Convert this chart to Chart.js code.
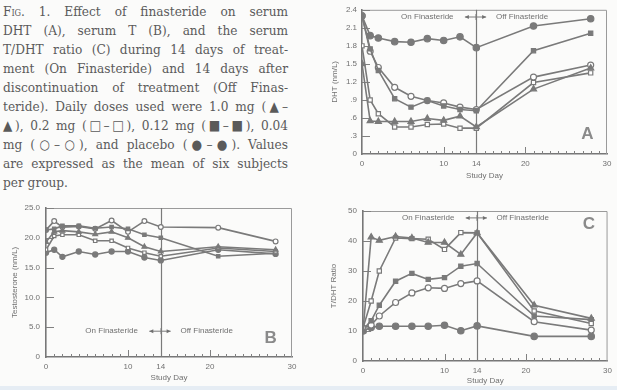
<!DOCTYPE html>
<html><head><meta charset="utf-8">
<script src="https://cdn.jsdelivr.net/npm/chart.js@4"></script>
<style>
body{margin:0;background:#fbfbfa;}
#wrap{position:relative;width:617px;height:390px;overflow:hidden;background:#fbfbfa;}
.cap{position:absolute;left:3px;width:285px;font-family:'DejaVu Serif Condensed','DejaVu Serif',serif;font-stretch:condensed;font-size:13.5px;color:#5a5a5a;text-align:justify;text-align-last:justify;white-space:nowrap;line-height:19px;height:19px;}
.cap.last{text-align-last:left;}
.sc{font-variant:small-caps;}
canvas{position:absolute;}
#strip{position:absolute;left:0;top:386px;width:617px;height:4px;background:#e6edf4;}
</style></head>
<body><div id="wrap">
<div class="cap" style="top:2px"><span class="sc">Fig</span>. 1. Effect of finasteride on serum</div>
<div class="cap" style="top:21px">DHT (A), serum T (B), and the serum</div>
<div class="cap" style="top:40px">T/DHT ratio (C) during 14 days of treat-</div>
<div class="cap" style="top:59px">ment (On Finasteride) and 14 days after</div>
<div class="cap" style="top:78px">discontinuation of treatment (Off Finas-</div>
<div class="cap" style="top:97px">teride). Daily doses used were 1.0 mg (▲–</div>
<div class="cap" style="top:116px">▲), 0.2 mg (□–□), 0.12 mg (■–■), 0.04</div>
<div class="cap" style="top:135px">mg (○–○), and placebo (●–●). Values</div>
<div class="cap" style="top:154px">are expressed as the mean of six subjects</div>
<div class="cap last" style="top:173px">per group.</div>
<canvas id="cA" width="317" height="195" style="left:300px;top:0px"></canvas>
<canvas id="cB" width="310" height="195" style="left:0px;top:195px"></canvas>
<canvas id="cC" width="307" height="195" style="left:310px;top:195px"></canvas>
<div id="strip"></div>
</div>
<script>
// ---- data ----
const days = [0, 1, 2, 4, 6, 8, 10, 12, 14, 21, 28];
const seriesNames = ['1.0 mg', '0.2 mg', '0.12 mg', '0.04 mg', 'placebo'];
const xTickValues = [0, 10, 14, 20, 30];

// Panel A: serum DHT (nm/L)
const dht_1_0   = [1.50, 0.55, 0.54, 0.54, 0.54, 0.59, 0.56, 0.63, 0.45, 1.08, 1.43];
const dht_0_2   = [1.80, 0.90, 0.67, 0.45, 0.45, 0.49, 0.50, 0.43, 0.43, 1.19, 1.35];
const dht_0_12  = [2.30, 1.75, 1.39, 0.92, 0.78, 0.89, 0.80, 0.74, 0.72, 1.72, 2.01];
const dht_0_04  = [2.30, 1.71, 1.44, 1.11, 0.96, 0.89, 0.85, 0.78, 0.74, 1.28, 1.48];
const dht_plac  = [2.30, 1.97, 1.93, 1.87, 1.86, 1.92, 1.89, 1.95, 1.77, 2.13, 2.25];
const dhtTicks = [0, 0.3, 0.6, 0.9, 1.2, 1.5, 1.8, 2.1, 2.4];
const dhtTickLabels = ['0', '.3', '.6', '.9', '1.2', '1.5', '1.8', '2.1', '2.4'];

// Panel B: serum testosterone (nm/L)
const t_1_0  = [19.3, 21.0, 21.2, 21.0, 20.6, 21.0, 20.0, 18.5, 17.7, 18.5, 18.0];
const t_0_2  = [18.0, 20.3, 20.5, 20.5, 19.5, 19.5, 18.3, 17.5, 16.9, 18.3, 17.7];
const t_0_12 = [21.3, 21.5, 22.0, 22.0, 21.6, 21.8, 21.5, 20.5, 20.0, 16.9, 17.4];
const t_0_04 = [21.3, 22.8, 21.8, 21.9, 21.5, 22.9, 21.0, 22.8, 21.8, 21.7, 19.4];
const t_plac = [17.5, 18.0, 16.8, 17.7, 17.2, 17.7, 17.7, 16.7, 16.2, 18.0, 17.3];
const tTicks = [0, 5, 10, 15, 20, 25];
const tTickLabels = ['0', '5.0', '10.0', '15.0', '20.0', '25.0'];

// Panel C: T/DHT ratio
const r_1_0  = [10.0, 41.3, 40.2, 41.5, 41.0, 39.5, 39.5, 35.5, 42.7, 18.6, 14.2];
const r_0_2  = [11.0, 20.0, 30.0, 41.0, 40.8, 40.6, 37.2, 42.8, 42.7, 16.7, 12.5];
const r_0_12 = [10.5, 13.4, 18.6, 26.6, 29.2, 27.2, 27.8, 31.6, 32.5, 15.0, 13.8];
const r_0_04 = [11.0, 12.0, 15.0, 19.5, 22.7, 24.4, 24.2, 25.8, 26.7, 13.1, 10.3];
const r_plac = [10.0, 11.2, 11.6, 11.6, 11.6, 11.6, 11.9, 10.1, 11.7, 8.2, 8.2];
const rTicks = [0, 10, 20, 30, 40, 50];
const rTickLabels = ['0', '10', '20', '30', '40', '50'];

// ---- styling ----
const LINE = '#7a7a7a';
const TXT = '#707070';
const FONT = 'Liberation Sans, Arial, sans-serif';
const markerStyles = [
  {pointStyle: 'triangle', fill: LINE, r: 3.5},
  {pointStyle: 'rect', fill: '#ffffff', r: 3},
  {pointStyle: 'rect', fill: LINE, r: 3},
  {pointStyle: 'circle', fill: '#ffffff', r: 3},
  {pointStyle: 'circle', fill: LINE, r: 3.2}
];

function makeDatasets(seriesList, rScale) {
  return seriesList.map((vals, k) => ({
    label: seriesNames[k],
    data: days.map((d, i) => ({x: d, y: vals[i]})).filter(p => p.y !== null),
    borderColor: LINE,
    backgroundColor: markerStyles[k].fill,
    pointBackgroundColor: markerStyles[k].fill,
    pointBorderColor: LINE,
    pointStyle: markerStyles[k].pointStyle,
    pointRadius: markerStyles[k].r * rScale,
    pointBorderWidth: 1.2,
    borderWidth: 1.6,
    tension: 0,
    fill: false
  }));
}

const decoPlugin = {
  id: 'deco',
  beforeDatasetsDraw(chart) {
    const o = chart.options.plugins.deco;
    const {ctx, chartArea: a, scales: {x, y}} = chart;
    ctx.save();
    ctx.strokeStyle = '#9a9a9a'; ctx.lineWidth = 1;
    ctx.beginPath();
    ctx.moveTo(a.left, a.top + 0.5); ctx.lineTo(a.right - 0.5, a.top + 0.5); ctx.lineTo(a.right - 0.5, a.bottom);
    ctx.stroke();
    ctx.strokeStyle = '#808080'; ctx.lineWidth = 1;
    for (let d = 1; d < 30; d++) {
      const px = Math.round(x.getPixelForValue(d)) + 0.5;
      const h = (d === 10 || d === 20) ? 7 : 3;
      ctx.beginPath(); ctx.moveTo(px, a.bottom); ctx.lineTo(px, a.bottom - h); ctx.stroke();
    }
    for (const v of o.yTicks) {
      if (v === o.yTicks[0]) continue;
      const py = Math.round(y.getPixelForValue(v)) + 0.5;
      ctx.beginPath(); ctx.moveTo(a.left, py); ctx.lineTo(a.left + 8, py); ctx.stroke();
    }
    const x14 = Math.round(x.getPixelForValue(14)) + 0.5;
    ctx.strokeStyle = '#7a7a7a'; ctx.lineWidth = 1.2;
    ctx.beginPath(); ctx.moveTo(x14, a.top); ctx.lineTo(x14, a.bottom); ctx.stroke();
    const ty = y.getPixelForValue(o.textY);
    ctx.fillStyle = TXT;
    ctx.font = '8px ' + FONT;
    ctx.textAlign = 'center'; ctx.textBaseline = 'middle';
    ctx.fillText('On Finasteride', x.getPixelForValue(8), ty);
    ctx.fillText('Off Finasteride', x.getPixelForValue(19.6), ty);
    const ax0 = x.getPixelForValue(12.6), ax1 = x.getPixelForValue(15.2);
    ctx.strokeStyle = '#7a7a7a'; ctx.lineWidth = 1;
    ctx.beginPath(); ctx.moveTo(ax0, ty); ctx.lineTo(ax1, ty); ctx.stroke();
    ctx.beginPath(); ctx.moveTo(ax0, ty); ctx.lineTo(ax0 + 4, ty - 2); ctx.lineTo(ax0 + 4, ty + 2); ctx.closePath(); ctx.fill();
    ctx.beginPath(); ctx.moveTo(ax1, ty); ctx.lineTo(ax1 - 4, ty - 2); ctx.lineTo(ax1 - 4, ty + 2); ctx.closePath(); ctx.fill();
    ctx.beginPath(); ctx.moveTo(x14 - 0.5, ty - 3); ctx.lineTo(x14 - 0.5, ty + 3); ctx.stroke();
    ctx.font = 'bold 17px ' + FONT;
    ctx.fillStyle = '#8a8a8a';
    ctx.fillText(o.letter, x.getPixelForValue(o.letterX), y.getPixelForValue(o.letterY));
    ctx.restore();
  }
};

function makePanel(id, seriesList, p) {
  new Chart(document.getElementById(id), {
    type: 'line',
    data: {datasets: makeDatasets(seriesList, p.rScale || 1)},
    plugins: [decoPlugin],
    options: {
      responsive: false, animation: false,
      layout: {padding: {top: p.padTop, right: p.padRight, left: 0, bottom: 0}},
      plugins: {
        legend: {display: false}, tooltip: {enabled: false},
        deco: {letter: p.letter, letterX: p.letterX, letterY: p.letterY, textY: p.textY, yTicks: p.yTicks}
      },
      scales: {
        x: {
          type: 'linear', min: 0, max: 30,
          afterBuildTicks: s => { s.ticks = xTickValues.map(v => ({value: v})); },
          afterFit: s => { s.height = p.xH; },
          ticks: {color: TXT, font: {family: FONT, size: 8}, padding: p.xPad, maxRotation: 0, autoSkip: false, callback: v => String(v)},
          grid: {display: true, drawOnChartArea: false, drawTicks: false},
          border: {display: true, color: '#777', width: 1.6},
          title: {display: true, text: 'Study Day', color: TXT, font: {family: FONT, size: 8}, padding: {top: 0, bottom: p.xTitlePad}}
        },
        y: {
          min: p.yTicks[0], max: p.yTicks[p.yTicks.length - 1],
          afterBuildTicks: s => { s.ticks = p.yTicks.map(v => ({value: v})); },
          afterFit: s => { s.width = p.yW; },
          ticks: {color: TXT, font: {family: FONT, size: 8}, padding: p.yPad, autoSkip: false,
                  callback: (v, i) => p.yLabels[i]},
          grid: {display: true, drawOnChartArea: false, drawTicks: false},
          border: {display: true, color: '#777', width: 1.6},
          title: {display: true, text: p.yTitle, color: TXT, font: {family: FONT, size: 8}, padding: {top: p.yTitlePad, bottom: 0}}
        }
      }
    }
  });
}

makePanel('cA', [dht_1_0, dht_0_2, dht_0_12, dht_0_04, dht_plac], {
  padTop: 5, padRight: 10, xH: 41, yW: 62, xPad: 5, yPad: 5, xTitlePad: 14, yTitlePad: 30,
  yTicks: dhtTicks, yLabels: dhtTickLabels, yTitle: 'DHT (nm/L)',
  letter: 'A', letterX: 27.6, letterY: 0.32, textY: 2.28
});
makePanel('cB', [t_1_0, t_0_2, t_0_12, t_0_04, t_plac], {
  padTop: 13, padRight: 18, xH: 33, yW: 46, xPad: 5, yPad: 6, xTitlePad: 7, yTitlePad: 10,
  yTicks: tTicks, yLabels: tTickLabels, yTitle: 'Testosterone (nm/L)', rScale: 0.8,
  letter: 'B', letterX: 27.4, letterY: 3.1, textY: 4.33
});
makePanel('cC', [r_1_0, r_0_2, r_0_12, r_0_04, r_plac], {
  padTop: 16, padRight: 9, xH: 29, yW: 53, xPad: 5, yPad: 6, xTitlePad: 4, yTitlePad: 19,
  yTicks: rTicks, yLabels: rTickLabels, yTitle: 'T/DHT Ratio',
  letter: 'C', letterX: 27.7, letterY: 45.4, textY: 47.7
});
</script>
</body></html>
